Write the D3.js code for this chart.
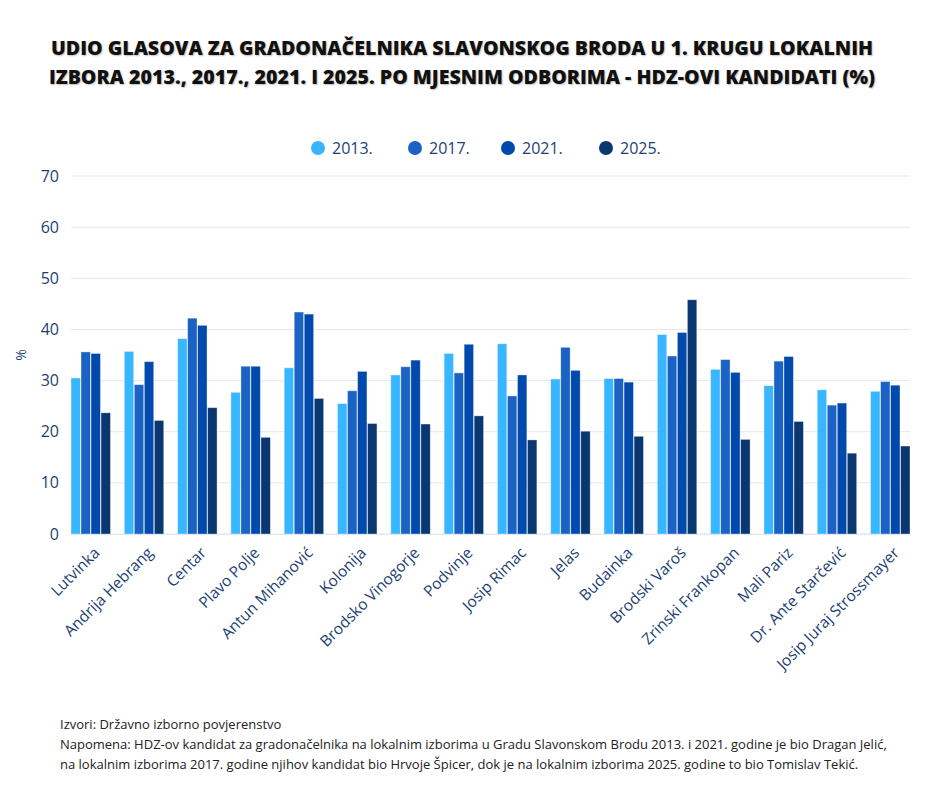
<!DOCTYPE html>
<html><head><meta charset="utf-8">
<script src="https://cdn.jsdelivr.net/npm/d3@7"></script>
<style>body{margin:0;background:#fff;font-family:"Open Sans",sans-serif}</style>
</head><body><svg id="c" width="940" height="788"></svg>
<script>
const categories = ["Lutvinka","Andrija Hebrang","Centar","Plavo Polje","Antun Mihanović","Kolonija","Brodsko Vinogorje","Podvinje","Josip Rimac","Jelas","Budainka","Brodski Varoš","Zrinski Frankopan","Mali Pariz","Dr. Ante Starčević","Josip Juraj Strossmayer"];
const seriesNames = ["2013.","2017.","2021.","2025."];
const v2013 = [30.5,35.7,38.2,27.7,32.5,25.5,31.1,35.3,37.2,30.3,30.4,39.0,32.2,29.0,28.2,27.9];
const v2017 = [35.6,29.2,42.2,32.8,43.4,28.0,32.7,31.5,27.0,36.5,30.4,34.8,34.1,33.8,25.2,29.8];
const v2021 = [35.3,33.7,40.8,32.8,43.0,31.8,34.0,37.1,31.1,32.0,29.7,39.4,31.6,34.7,25.6,29.1];
const v2025 = [23.7,22.2,24.7,18.9,26.5,21.6,21.5,23.1,18.4,20.1,19.1,45.8,18.5,22.0,15.8,17.2];
const yTicks = [0,10,20,30,40,50,60,70];
const colors = ["#38b6ff","#1a63c4","#004aad","#0b3770"];
const titleLines = ["UDIO GLASOVA ZA GRADONAČELNIKA SLAVONSKOG BRODA U 1. KRUGU LOKALNIH","IZBORA 2013., 2017., 2021. I 2025. PO MJESNIM ODBORIMA - HDZ-OVI KANDIDATI (%)"];
const notes = ["Izvori: Državno izborno povjerenstvo","Napomena: HDZ-ov kandidat za gradonačelnika na lokalnim izborima u Gradu Slavonskom Brodu 2013. i 2021. godine je bio Dragan Jelić,","na lokalnim izborima 2017. godine njihov kandidat bio Hrvoje Špicer, dok je na lokalnim izborima 2025. godine to bio Tomislav Tekić."];

const values = [v2013,v2017,v2021,v2025];
const txt = "#1c3f72";
const svg = d3.select("#c");

svg.append("g").selectAll("text").data(titleLines).join("text")
  .attr("x",462).attr("y",(d,i)=>55+i*29).attr("text-anchor","middle")
  .attr("font-size",19.6).attr("font-weight",800).attr("fill","#111")
  .style("text-shadow","1px 1px 1.5px rgba(0,0,0,0.25)").text(d=>d);

const x0 = d3.scaleBand().domain(categories).range([71,910]).paddingInner(0.26).paddingOuter(0);
const x1 = d3.scaleBand().domain(seriesNames).range([0,x0.bandwidth()]).paddingInner(0.06);
const y = d3.scaleLinear().domain([0,70]).range([534,176]);

const grid = svg.append("g");
grid.selectAll("line").data(yTicks).join("line")
  .attr("x1",71).attr("x2",910).attr("y1",d=>y(d)).attr("y2",d=>y(d))
  .attr("stroke","#e3e7ef").attr("stroke-width",1);

const yAxis = svg.append("g").attr("transform","translate(71,0)")
  .call(d3.axisLeft(y).tickValues(yTicks).tickSize(0).tickPadding(12));
yAxis.select(".domain").remove();
yAxis.selectAll("text").attr("font-size",16).attr("fill",txt).attr("font-family","Open Sans");

svg.append("text").attr("transform","translate(26,355) rotate(-90)").attr("text-anchor","middle")
  .attr("font-size",14).attr("fill",txt).text("%");

const g = svg.append("g");
seriesNames.forEach((s,si)=>{
  g.append("g").selectAll("rect").data(categories).join("rect")
    .attr("x",c=>x0(c)+x1(s)).attr("width",x1.bandwidth())
    .attr("y",(c,i)=>y(values[si][i])).attr("height",(c,i)=>y(0)-y(values[si][i]))
    .attr("fill",colors[si]).attr("stroke","rgba(255,255,255,0.45)").attr("stroke-width",0.8);
});

const xAxis = svg.append("g").attr("transform","translate(0,534)")
  .call(d3.axisBottom(x0).tickSize(0).tickPadding(0));
xAxis.select(".domain").attr("stroke","#e3e7ef");
xAxis.selectAll("text").attr("font-size",15.5).attr("fill",txt).attr("font-family","Open Sans")
  .attr("text-anchor","end").attr("dy","0.35em")
  .attr("transform","translate(6,16) rotate(-45)");

const legX = [318,415,508,606];
const leg = svg.append("g");
seriesNames.forEach((s,i)=>{
  leg.append("circle").attr("cx",legX[i]).attr("cy",148).attr("r",7).attr("fill",colors[i]);
  leg.append("text").attr("x",legX[i]+14).attr("y",153.5).attr("font-size",16).attr("fill",txt).text(s);
});

svg.append("g").selectAll("text").data(notes).join("text")
  .attr("x",60).attr("y",(d,i)=>729+i*20).attr("font-size",13).attr("fill","#222").text(d=>d);
</script></body></html>
